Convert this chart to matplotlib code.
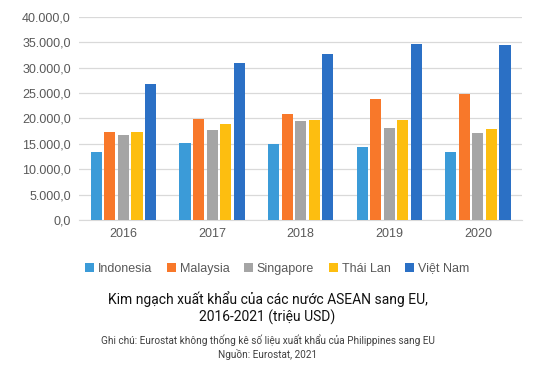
import numpy as np
import matplotlib
matplotlib.use("Agg")
import matplotlib.pyplot as plt
from matplotlib.ticker import FuncFormatter

years = ["2016", "2017", "2018", "2019", "2020"]
countries = ["Indonesia", "Malaysia", "Singapore", "Thái Lan", "Việt Nam"]
indonesia = [13300, 15200, 15000, 14400, 13300]
malaysia = [17400, 19800, 20900, 23800, 24800]
singapore = [16700, 17700, 19500, 18100, 17100]
thailand = [17400, 19000, 19700, 19700, 17900]
vietnam = [26700, 30900, 32600, 34600, 34400]
colors = ["#3B9BD8", "#F8782A", "#A5A5A5", "#FDBE10", "#2B70C5"]

series = [indonesia, malaysia, singapore, thailand, vietnam]

fig = plt.figure(figsize=(5.35, 3.73), dpi=100)
ax = fig.add_axes([0.148, 0.41, 0.828, 0.545])

x = np.arange(len(years))
w = 0.125
pitch = 0.153
for i, (vals, name, c) in enumerate(zip(series, countries, colors)):
    ax.bar(x + (i - 2) * pitch, vals, width=w, color=c, label=name, zorder=3)

ax.set_xlim(-0.5, 4.5)
ax.set_ylim(0, 40000)
ax.set_yticks(range(0, 40001, 5000))
ax.yaxis.set_major_formatter(FuncFormatter(
    lambda v, p: f"{v:,.1f}".replace(",", "X").replace(".", ",").replace("X", ".")))
ax.set_xticks(x)
ax.set_xticklabels(years)
ax.grid(axis="y", color="#D9D9D9", linewidth=0.9, zorder=0)
for s in ["top", "right", "left"]:
    ax.spines[s].set_visible(False)
ax.spines["bottom"].set_color("#D9D9D9")
ax.tick_params(length=0, labelsize=9, colors="#595959", pad=6)
for lab in ax.get_xticklabels() + ax.get_yticklabels():
    lab.set_family("Liberation Sans")

leg = fig.legend(loc="center", bbox_to_anchor=(0.518, 0.28), ncol=5, frameon=False,
                 handlelength=0.7, handleheight=0.7, handletextpad=0.3,
                 columnspacing=1.2, prop={"family": "Liberation Sans", "size": 9})
for t in leg.get_texts():
    t.set_color("#595959")

fig.text(0.5, 0.174, "Kim ngạch xuất khẩu của các nước ASEAN sang EU,\n2016-2021 (triệu USD)",
         ha="center", va="center", fontsize=10, family="Roboto", color="#111111",
         linespacing=1.2)
fig.text(0.5, 0.07, "Ghi chú: Eurostat không thống kê số liệu xuất khẩu của Philippines sang EU\nNguồn: Eurostat, 2021",
         ha="center", va="center", fontsize=7.2, family="Roboto", color="#404040",
         linespacing=1.35)

fig.savefig("out.png", dpi=100, facecolor="white")
